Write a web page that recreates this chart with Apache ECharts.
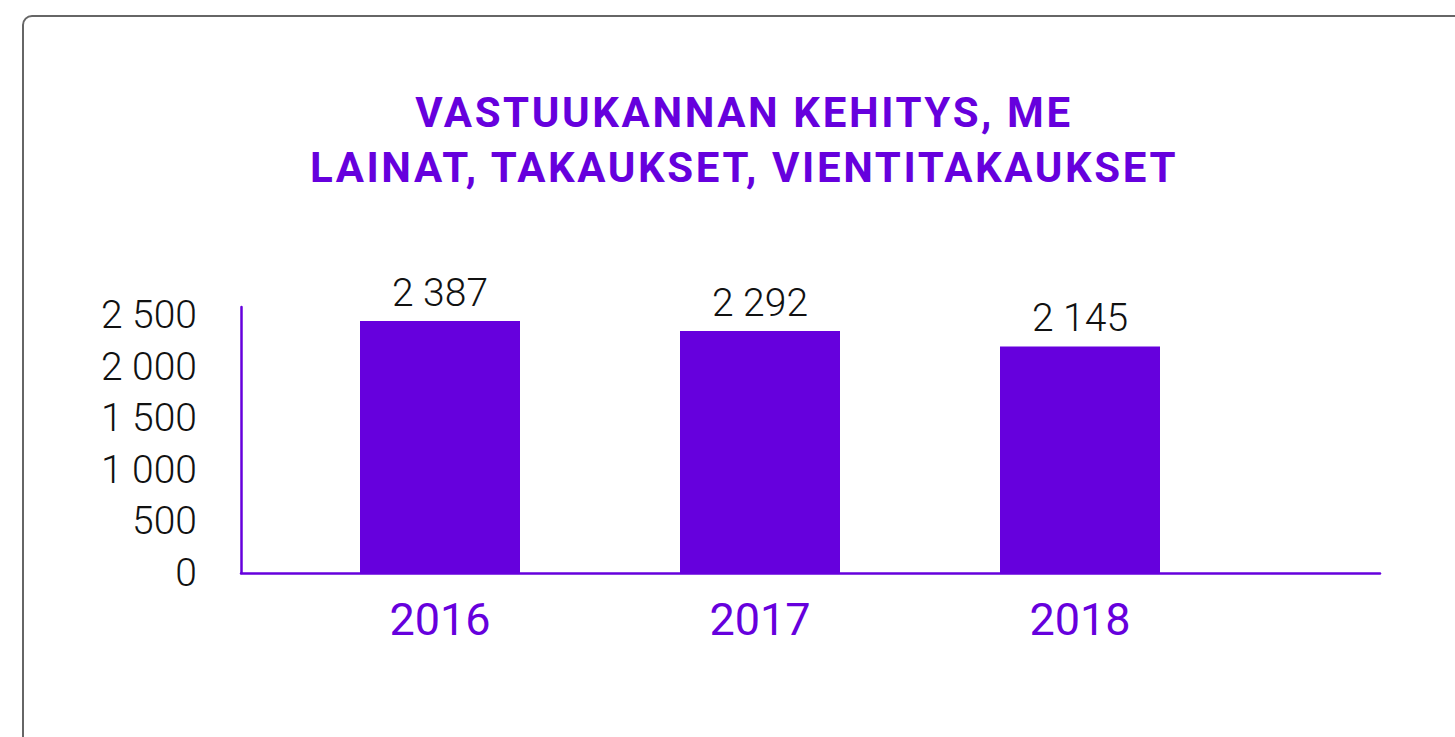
<!DOCTYPE html>
<html>
<head>
<meta charset="utf-8">
<script src="https://cdn.jsdelivr.net/npm/echarts@6/dist/echarts.min.js"></script>
<style>
  html, body { margin: 0; padding: 0; background: #fff; overflow: hidden; }
  .card {
    position: absolute; left: 22px; top: 15px; width: 1500px; height: 800px;
    border: 2px solid #666; border-radius: 10px; box-sizing: border-box;
  }
  #chart { position: absolute; left: 0; top: 0; width: 1455px; height: 737px; }
  /* the title is the only bold text; spread its letters like the original */
  #chart text[style*="bold"] { letter-spacing: 2.6px; }
</style>
</head>
<body>
<div class="card"></div>
<div id="chart"></div>
<script>
const years = ['2016', '2017', '2018'];
const vastuukanta = [2387, 2292, 2145];
const yTicks = [0, 500, 1000, 1500, 2000, 2500];

const purple = '#6600dd';
const fmt = v => String(v).replace(/\B(?=(\d{3})+(?!\d))/g, ' ');

const chart = echarts.init(document.getElementById('chart'), null, { renderer: 'svg' });
chart.setOption({
  animation: false,
  title: {
    text: 'VASTUUKANNAN KEHITYS, ME\nLAINAT, TAKAUKSET, VIENTITAKAUKSET',
    left: 739,
    top: 80,
    textAlign: 'center',
    textStyle: {
      fontFamily: 'Roboto',
      fontWeight: 'bold',
      fontSize: 42,
      lineHeight: 55,
      color: purple
    }
  },
  grid: [
    // bars
    { left: 280, width: 960, top: 307, bottom: 164 },
    // axis frame, wider than the bar area
    { left: 241, right: 75, top: 307, bottom: 164 }
  ],
  xAxis: [{
    type: 'category',
    gridIndex: 0,
    data: years,
    axisLine: { show: false },
    axisTick: { show: false },
    axisLabel: {
      margin: 24,
      fontFamily: 'Roboto',
      fontSize: 45,
      color: purple
    }
  }, {
    type: 'value',
    gridIndex: 1,
    min: 0,
    max: 1,
    axisLine: { show: true, lineStyle: { color: purple, width: 2.5 } },
    axisTick: { show: false },
    axisLabel: { show: false },
    splitLine: { show: false }
  }],
  yAxis: [{
    type: 'value',
    gridIndex: 0,
    min: 0,
    max: 2520,
    show: false
  }, {
    // tick labels sit a little tighter than the bar scale in the original
    type: 'value',
    gridIndex: 1,
    min: 0,
    max: 2580,
    interval: 500,
    axisLine: { show: true, lineStyle: { color: purple, width: 2.5 } },
    axisTick: { show: false },
    splitLine: { show: false },
    axisLabel: {
      margin: 44,
      padding: [0, 0, 6, 0],
      fontFamily: 'Roboto',
      fontWeight: 300,
      fontSize: 39,
      color: '#111',
      showMaxLabel: false,
      formatter: v => (yTicks.indexOf(v) >= 0 ? fmt(v) : '')
    }
  }],
  series: [{
    type: 'bar',
    xAxisIndex: 0,
    yAxisIndex: 0,
    data: vastuukanta,
    barWidth: 160,
    itemStyle: { color: purple },
    label: {
      show: true,
      position: 'top',
      distance: 9,
      fontFamily: 'Roboto',
      fontWeight: 300,
      fontSize: 39,
      color: '#111',
      formatter: p => fmt(p.value)
    }
  }]
});
</script>
</body>
</html>
